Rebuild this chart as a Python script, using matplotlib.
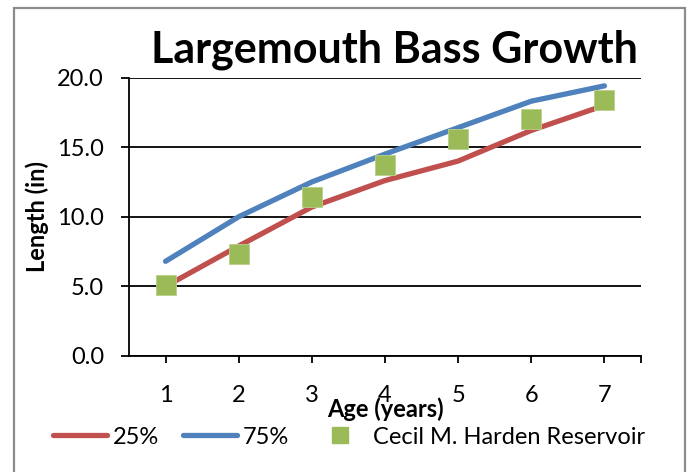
import matplotlib
matplotlib.use("Agg")
import matplotlib.pyplot as plt
from matplotlib.patches import Rectangle
from matplotlib.lines import Line2D

plt.rcParams['font.family'] = ['Lato', 'DejaVu Sans']

ages = [1, 2, 3, 4, 5, 6, 7]
age_labels = ['1', '2', '3', '4', '5', '6', '7']
p25 = [5.0, 7.9, 10.7, 12.6, 14.0, 16.2, 18.0]
p75 = [6.8, 10.0, 12.5, 14.5, 16.4, 18.3, 19.4]
reservoir = [5.1, 7.3, 11.4, 13.7, 15.6, 17.0, 18.4]
y_ticks = [0, 5, 10, 15, 20]
y_labels = ['0.0', '5.0', '10.0', '15.0', '20.0']

W, H = 689, 472
fig = plt.figure(figsize=(W / 100, H / 100), dpi=100)

# outer border
fig.patches.append(Rectangle((14 / W, -0.05), (685 - 14) / W, (H - 8) / H + 0.05,
                             transform=fig.transFigure, fill=False,
                             edgecolor='#8c8c8c', linewidth=1.6))
# cropped caption fragments at top
fig.text(150 / W, (H + 9) / H, 'g', fontsize=14, ha='left', va='baseline')
fig.text(225 / W, (H + 9) / H, 'p', fontsize=14, ha='left', va='baseline')

ax = fig.add_axes([129 / W, (H - 356) / H, (641 - 129) / W, (356 - 77.5) / H])
red = '#C0504D'
blue = '#4F81BD'
green = '#9BBB59'
ax.plot(ages, p25, color=red, lw=3.8, solid_capstyle='round', zorder=3)
ax.plot(ages, p75, color=blue, lw=3.8, solid_capstyle='round', zorder=3)
ax.plot(ages, reservoir, ls='none', marker='s', ms=14.5, color=green,
        markeredgecolor='#b9d08a', markeredgewidth=0.6, zorder=4)

ax.set_xlim(0.5, 7.5)
ax.set_ylim(0, 20)
ax.set_yticks(y_ticks)
ax.set_yticklabels(y_labels)
ax.set_xticks(ages + [7.5])
ax.set_xticklabels(age_labels + [''])
ax.grid(axis='y', color='black', lw=1.3)
ax.set_axisbelow(True)
for s in ['top', 'right']:
    ax.spines[s].set_visible(False)
for s in ['left', 'bottom']:
    ax.spines[s].set_linewidth(1.3)
ax.tick_params(axis='y', length=6, width=1.3, labelsize=17, pad=12)
ax.tick_params(axis='x', length=5, width=1.3, labelsize=17, pad=16)
ax.set_xlabel('Age (years)', fontsize=17, fontweight='bold', labelpad=-6)
ax.set_ylabel('Length (in)', fontsize=17, fontweight='bold', labelpad=6)

fig.text(394 / W, (H - 63) / H, 'Largemouth Bass Growth', fontsize=31,
         fontweight='bold', ha='center', va='baseline')

handles = [Line2D([], [], color=red, lw=3.8, solid_capstyle='round'),
           Line2D([], [], color=blue, lw=3.8, solid_capstyle='round'),
           Line2D([], [], ls='none', marker='s', ms=12, color=green)]
fig.legend(handles, ['25%', '75%', 'Cecil M. Harden Reservoir'],
           loc='center', bbox_to_anchor=(349 / W, (H - 437) / H), ncol=3,
           frameon=False, fontsize=17, handlelength=2.3, handletextpad=0.25,
           columnspacing=1.0)

fig.savefig('out.png', dpi=100)
